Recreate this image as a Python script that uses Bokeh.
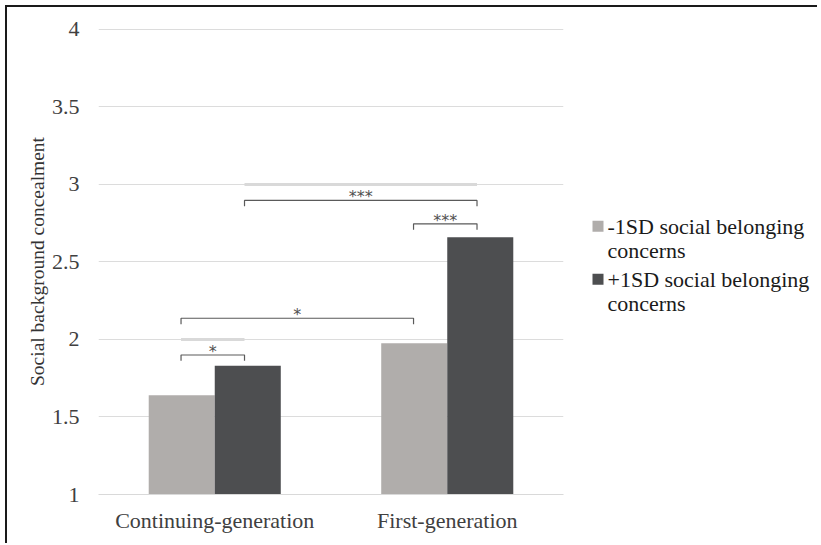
from bokeh.plotting import figure
from bokeh.layouts import row
from bokeh.models import FactorRange, FixedTicker, ColumnDataSource, Label
from bokeh.transform import dodge
from bokeh.core.properties import value
from bokeh.embed import file_html
from bokeh.resources import INLINE

# ---- data ----
categories = ["Continuing-generation", "First-generation"]
series_names = ["-1SD social belonging concerns", "+1SD social belonging concerns"]
legend_lines = [["-1SD social belonging", "concerns"], ["+1SD social belonging", "concerns"]]
low_values = [1.64, 1.975]
high_values = [1.83, 2.66]
y_ticks = [1, 1.5, 2, 2.5, 3, 3.5, 4]
y_tick_labels = {1: "1", 1.5: "1.5", 2: "2", 2.5: "2.5", 3: "3", 3.5: "3.5", 4: "4"}

# significance brackets: (category index, side) for start and end, height, label
bracket_starts = [(0, "low"), (0, "low"), (1, "low"), (0, "high")]
bracket_ends = [(0, "high"), (1, "low"), (1, "high"), (1, "high")]
bracket_heights = [1.90, 2.137, 2.746, 2.897]
bracket_labels = ["*", "*", "***", "***"]
# light highlight segments on grid lines: (start, end, y)
highlight_starts = [(0, "low"), (0, "high")]
highlight_ends = [(0, "high"), (1, "high")]
highlight_y = [2.0, 3.0]

LOW_COLOR = "#b0adab"
HIGH_COLOR = "#4d4e50"
COLORS = [LOW_COLOR, HIGH_COLOR]
FONT = "Liberation Serif"
BAR_W = 0.284
OFFS = {"low": -0.145, "high": 0.128}
TICK = 0.038
H = 536


def pos(ref):
    i, side = ref
    return i + 0.5 + OFFS[side]


src = ColumnDataSource(dict(cat=categories, low=low_values, high=high_values))

p = figure(width=566, height=H, x_range=FactorRange(*categories), y_range=(1, 4.006),
           output_backend="svg", toolbar_location=None,
           min_border_left=91, min_border_right=10, min_border_top=21, min_border_bottom=49)
p.outline_line_color = None

p.vbar(x=dodge("cat", -BAR_W / 2, range=p.x_range), top="low", bottom=1, width=BAR_W,
       source=src, fill_color=LOW_COLOR, line_color=None)
p.vbar(x=dodge("cat", BAR_W / 2, range=p.x_range), top="high", bottom=1, width=BAR_W,
       source=src, fill_color=HIGH_COLOR, line_color=None)

# highlight segments
for s, e, yv in zip(highlight_starts, highlight_ends, highlight_y):
    p.line([pos(s), pos(e)], [yv, yv], line_color="#d9d9d9", line_width=3)

# brackets
xs, ys = [], []
for s, e, h in zip(bracket_starts, bracket_ends, bracket_heights):
    x0, x1 = pos(s), pos(e)
    xs.append([x0, x0, x1, x1])
    ys.append([h - TICK, h, h, h - TICK])
p.multi_line(xs, ys, line_color="#5a5a5a", line_width=1.2)
p.text(x=[(pos(s) + pos(e)) / 2 for s, e in zip(bracket_starts, bracket_ends)],
       y=bracket_heights, text=bracket_labels, text_align="center", text_baseline="bottom",
       y_offset=6, text_font=value("DejaVu Sans"), text_font_size="16px", text_color="#505050")

# axes
p.xgrid.grid_line_color = None
p.ygrid.grid_line_color = "#dcdcdc"
p.ygrid.grid_line_width = 1
p.yaxis.ticker = FixedTicker(ticks=y_ticks)
p.yaxis.major_label_overrides = y_tick_labels
for ax in (p.xaxis, p.yaxis):
    ax.major_tick_line_color = None
    ax.minor_tick_line_color = None
    ax.major_label_text_font = FONT
    ax.major_label_text_font_size = "22px"
    ax.major_label_text_color = "#404040"
p.yaxis.axis_line_color = None
p.xaxis.axis_line_color = "#d9d9d9"
p.xaxis.major_label_standoff = 7
p.yaxis.major_label_standoff = 13
p.yaxis.axis_label = "Social background concealment"
p.yaxis.axis_label_text_font = FONT
p.yaxis.axis_label_text_font_size = "19.5px"
p.yaxis.axis_label_text_font_style = "normal"
p.yaxis.axis_label_text_color = "#333333"
p.yaxis.axis_label_standoff = 1

# ---- legend panel (pixel coordinates, y downward) ----
LW = 244
leg = figure(width=LW, height=H, x_range=(0, LW), y_range=(H, 0),
             output_backend="svg", toolbar_location=None,
             min_border=0, x_axis_type=None, y_axis_type=None)
leg.outline_line_color = None
leg.grid.visible = False
item_top = [227.5, 288.5]
line_gap = 28
leg.scatter(x=[24.5] * len(series_names), y=item_top, marker="square", size=11,
            fill_color=COLORS, line_color=None)
for k, lines in enumerate(legend_lines):
    for j, t in enumerate(lines):
        leg.add_layout(Label(x=34, y=item_top[k] + j * line_gap, text=t,
                             text_align="left", text_baseline="middle",
                             text_font=FONT, text_font_size="22px", text_color="#1a1a1a"))

layout = row(p, leg)
layout.styles = {"margin-left": "5px", "margin-top": "5px",
                 "border-left": "2px solid #1a1a1a", "border-top": "2px solid #1a1a1a"}

open("out.html", "w").write(file_html(layout, INLINE))
